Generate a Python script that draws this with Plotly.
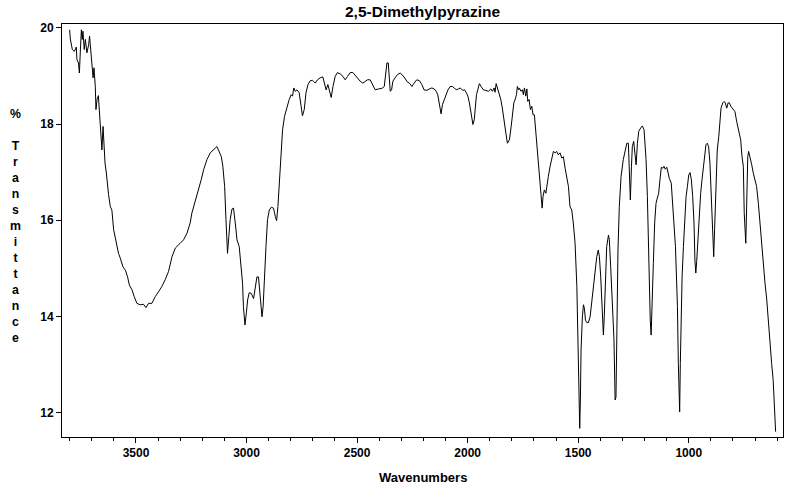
import plotly.graph_objects as go

# ---- data (wavenumber cm-1, %T) ----
wn_oh = [3800, 3797, 3788, 3779, 3770, 3767, 3760, 3756, 3752, 3747, 3743, 3740, 3734, 3729, 3722, 3714,
         3710, 3703, 3698, 3694, 3690, 3684, 3681, 3676, 3670, 3666, 3663, 3658, 3654, 3649, 3645, 3640,
         3634, 3630, 3624, 3616, 3609, 3601, 3590, 3579, 3571, 3559, 3548, 3538, 3530, 3518, 3508, 3496,
         3481, 3466, 3455, 3443, 3428, 3413, 3398, 3383, 3368, 3353, 3337, 3322, 3300, 3285, 3269, 3255]
t_oh = [19.96, 19.77, 19.55, 19.51, 19.60, 19.34, 19.27, 19.06, 19.48, 19.96, 19.76, 19.93, 19.55, 19.76, 19.48, 19.65,
        19.83, 19.48, 19.27, 18.96, 19.17, 18.78, 18.30, 18.51, 18.59, 18.33, 17.95, 17.74, 17.46, 17.95, 17.50, 17.19,
        16.98, 16.77, 16.53, 16.28, 16.21, 15.80, 15.55, 15.31, 15.21, 15.03, 14.96, 14.82, 14.65, 14.55, 14.41, 14.27,
        14.24, 14.25, 14.18, 14.27, 14.27, 14.41, 14.51, 14.62, 14.76, 14.93, 15.24, 15.42, 15.52, 15.59, 15.73, 15.94]

wn_ch = [3247, 3232, 3217, 3205, 3194, 3179, 3164, 3149, 3134, 3127, 3114, 3107, 3099, 3093, 3089, 3086,
         3080, 3074, 3066, 3059, 3051, 3043, 3033, 3025, 3018, 3014, 3007, 3001, 2995, 2988, 2979, 2968,
         2961, 2953, 2946, 2939, 2930, 2925, 2919, 2912, 2905, 2897, 2888, 2878, 2870, 2864, 2858, 2851,
         2843, 2837, 2828, 2817, 2807, 2798, 2792, 2786, 2780, 2772, 2762, 2753, 2747, 2739, 2731, 2722,
         2712, 2702, 2689]
t_ch = [16.15, 16.39, 16.60, 16.84, 17.05, 17.26, 17.40, 17.46, 17.53, 17.46, 17.32, 17.12, 16.70, 16.01, 15.59, 15.31,
        15.66, 16.01, 16.23, 16.25, 15.94, 15.59, 15.45, 15.10, 14.69, 14.20, 13.82, 14.06, 14.34, 14.49, 14.48, 14.37,
        14.62, 14.82, 14.82, 14.48, 13.99, 14.20, 14.96, 15.45, 16.01, 16.21, 16.27, 16.25, 16.08, 15.99, 16.28, 16.84,
        17.40, 17.88, 18.16, 18.37, 18.51, 18.61, 18.58, 18.75, 18.68, 18.71, 18.65, 18.37, 18.17, 18.30, 18.65, 18.82,
        18.90, 18.91, 18.85]

wn_mid = [2679, 2667, 2655, 2647, 2640, 2632, 2625, 2617, 2609, 2599, 2589, 2576, 2564, 2554, 2543, 2531,
          2519, 2509, 2498, 2486, 2474, 2463, 2453, 2441, 2429, 2418, 2403, 2388, 2377, 2372, 2365, 2359,
          2355, 2350, 2344, 2338, 2328, 2317, 2305, 2293, 2282, 2272, 2263, 2252, 2242, 2230, 2218, 2207,
          2197, 2184, 2173, 2162, 2151, 2142, 2135, 2128, 2120, 2114, 2105, 2097, 2089, 2079, 2069, 2060,
          2052, 2041, 2033, 2023, 2014, 2007, 1999, 1992, 1984, 1976, 1970, 1966, 1960, 1954, 1947, 1939,
          1929, 1918, 1906, 1895, 1888, 1880, 1876, 1871, 1865, 1858, 1850, 1843, 1835, 1827, 1820, 1811,
          1803, 1797, 1791, 1785, 1779, 1775, 1770, 1766, 1759, 1752, 1748, 1743, 1737, 1732, 1728, 1722,
          1716, 1710, 1704, 1698]
t_mid = [18.92, 18.96, 18.98, 18.82, 18.71, 18.82, 18.68, 18.55, 18.78, 18.99, 19.07, 19.04, 18.99, 18.92, 18.99, 19.07,
         19.07, 19.01, 18.96, 18.89, 18.85, 18.89, 18.92, 18.92, 18.82, 18.71, 18.73, 18.74, 18.78, 18.99, 19.27, 19.27,
         18.99, 18.68, 18.71, 18.89, 18.96, 19.03, 19.06, 19.01, 18.94, 18.87, 18.85, 18.78, 18.85, 18.92, 18.90, 18.82,
         18.71, 18.70, 18.73, 18.75, 18.73, 18.68, 18.61, 18.44, 18.21, 18.40, 18.51, 18.58, 18.71, 18.78, 18.78, 18.75,
         18.71, 18.73, 18.75, 18.70, 18.71, 18.66, 18.58, 18.44, 18.19, 17.99, 18.09, 18.37, 18.61, 18.71, 18.84, 18.78,
         18.71, 18.70, 18.68, 18.73, 18.68, 18.75, 18.66, 18.84, 18.75, 18.61, 18.51, 18.33, 18.02, 17.81, 17.60, 17.67,
         17.95, 18.23, 18.44, 18.51, 18.61, 18.78, 18.71, 18.75, 18.68, 18.71, 18.61, 18.75, 18.58, 18.73, 18.47, 18.51,
         18.30, 18.37, 18.19, 18.19]

wn_ring = [1692, 1686, 1680, 1674, 1668, 1663, 1659, 1653, 1646, 1641, 1635, 1627, 1619, 1612, 1604, 1597,
           1590, 1582, 1574, 1567, 1559, 1552, 1544, 1537, 1529, 1522, 1514, 1506, 1499, 1495, 1493, 1490,
           1487, 1481, 1476, 1472, 1467, 1461, 1454, 1446, 1438, 1431, 1424, 1416, 1409, 1404, 1398, 1392,
           1386, 1382, 1377, 1371, 1363, 1359, 1353, 1344, 1338, 1333, 1329, 1325, 1320, 1314, 1306, 1296,
           1287, 1280, 1273, 1268, 1264, 1259, 1255, 1249, 1243, 1238, 1232, 1226, 1217, 1210, 1202]
t_ring = [17.88, 17.53, 17.19, 16.84, 16.56, 16.25, 16.49, 16.63, 16.56, 16.77, 16.91, 17.12, 17.29, 17.43, 17.40, 17.43,
          17.36, 17.40, 17.29, 17.32, 17.08, 16.87, 16.70, 16.28, 16.21, 15.94, 15.52, 14.62, 13.30, 12.26, 11.67, 12.26,
          13.30, 13.99, 14.24, 14.17, 13.92, 13.87, 13.87, 13.99, 14.34, 14.55, 14.82, 15.24, 15.38, 15.24, 14.82, 14.06,
          13.61, 13.99, 14.82, 15.45, 15.69, 15.59, 15.03, 14.20, 13.51, 12.26, 12.32, 13.65, 15.38, 16.28, 16.91, 17.26,
          17.50, 17.60, 17.60, 17.12, 16.42, 17.12, 17.53, 17.64, 17.26, 17.15, 17.60, 17.85, 17.92, 17.96, 17.88]

wn_fp = [1193, 1187, 1183, 1178, 1174, 1170, 1166, 1160, 1154, 1148, 1142, 1136, 1130, 1124, 1117, 1112,
         1106, 1099, 1093, 1088, 1079, 1072, 1066, 1060, 1056, 1051, 1047, 1044, 1041, 1038, 1035, 1030,
         1024, 1018, 1012, 1006, 1000, 994, 988, 982, 976, 972, 968, 964, 958, 952, 946, 940,
         934, 928, 922, 916, 910, 904, 898, 892, 887, 883, 877, 871, 864, 858, 854, 846,
         840, 835, 828, 822, 816, 810, 801, 791, 783, 774, 765, 759, 753, 749, 745, 742,
         738, 733, 729, 723, 715, 708, 700, 693, 685, 678, 670, 663, 655, 647, 640, 633,
         625, 618, 611, 607]
t_fp = [17.26, 16.49, 15.45, 14.27, 13.92, 13.61, 14.48, 15.10, 15.94, 16.35, 16.46, 16.56, 16.84, 17.10, 17.08, 17.12,
        17.06, 17.10, 16.98, 16.87, 16.77, 16.28, 15.94, 15.45, 14.90, 14.20, 13.02, 12.15, 12.01, 13.02, 14.06, 14.82,
        15.45, 16.01, 16.49, 16.70, 16.94, 16.99, 16.84, 16.49, 15.94, 15.17, 14.90, 15.14, 15.66, 16.15, 16.56, 16.84,
        17.12, 17.32, 17.57, 17.60, 17.53, 17.19, 16.49, 15.66, 15.24, 15.80, 16.84, 17.46, 17.74, 18.09, 18.33, 18.44,
        18.47, 18.44, 18.33, 18.44, 18.44, 18.37, 18.31, 18.26, 18.05, 17.88, 17.67, 17.32, 17.12, 16.15, 15.62, 15.52,
        16.28, 17.32, 17.43, 17.32, 17.15, 16.98, 16.84, 16.70, 16.35, 15.94, 15.45, 15.03, 14.69, 14.34, 13.85, 13.37,
        13.02, 12.67, 11.98, 11.60]

x_tick_vals = [3500, 3000, 2500, 2000, 1500, 1000]
x_tick_text = ["3500", "3000", "2500", "2000", "1500", "1000"]
y_tick_vals = [12, 14, 16, 18, 20]
y_tick_text = ["12", "14", "16", "18", "20"]

title_text = "2,5-Dimethylpyrazine"
x_title = "Wavenumbers"
y_title_letters = ["%", "", "T", "r", "a", "n", "s", "m", "i", "t", "t", "a", "n", "c", "e"]

segments = [(wn_oh, t_oh), (wn_ch, t_ch), (wn_mid, t_mid), (wn_ring, t_ring), (wn_fp, t_fp)]
wavenumber, transmittance = [], []
for w, t in segments:
    assert len(w) == len(t), (len(w), len(t), w[0])
    wavenumber += w
    transmittance += t

FONT = "Liberation Sans, Arial, sans-serif"

fig = go.Figure(go.Scatter(x=wavenumber, y=transmittance, mode="lines",
                           line=dict(color="black", width=1), hoverinfo="skip"))

fig.update_layout(
    width=800, height=484,
    margin=dict(l=62, r=17, t=24, b=47, pad=0),
    paper_bgcolor="white", plot_bgcolor="white",
    showlegend=False,
    font=dict(family=FONT, color="black"),
)

fig.update_xaxes(
    range=[3834.6, 573.6], showline=True, linecolor="black", linewidth=1, mirror=True,
    ticks="outside", ticklen=5, tickwidth=1, tickcolor="black",
    tickmode="array", tickvals=x_tick_vals, ticktext=x_tick_text,
    tickfont=dict(family=FONT, size=12, weight="bold", color="black"),
    showgrid=False, zeroline=False,
    minor=dict(ticks="outside", dtick=100, tick0=0, ticklen=3, tickwidth=1, tickcolor="black", showgrid=False),
)
fig.update_yaxes(
    range=[11.49, 20.08], showline=True, linecolor="black", linewidth=1, mirror=True,
    ticks="outside", ticklen=5, tickwidth=1, tickcolor="black",
    tickmode="array", tickvals=y_tick_vals, ticktext=y_tick_text,
    tickfont=dict(family=FONT, size=12, weight="bold", color="black"),
    showgrid=False, zeroline=False,
)

fig.add_annotation(text=title_text, xref="paper", yref="paper", x=0.5, y=1.030,
                   xanchor="center", yanchor="middle", showarrow=False,
                   font=dict(family=FONT, size=15.5, weight="bold", color="black"))
fig.add_annotation(text=x_title, xref="paper", yref="paper", x=0.5, y=-0.0977,
                   xanchor="center", yanchor="middle", showarrow=False,
                   font=dict(family=FONT, size=13, weight="bold", color="black"))
fig.add_annotation(text="<br>".join(l if l else " " for l in y_title_letters),
                   xref="paper", yref="paper", x=-0.0647, y=0.5097,
                   xanchor="center", yanchor="middle", showarrow=False, align="center",
                   font=dict(family=FONT, size=12.3, weight="bold", color="black"))

fig.write_html("out.html", config={"displayModeBar": False, "staticPlot": True},
               post_script="document.body.style.margin='0';document.body.style.overflow='hidden';")
